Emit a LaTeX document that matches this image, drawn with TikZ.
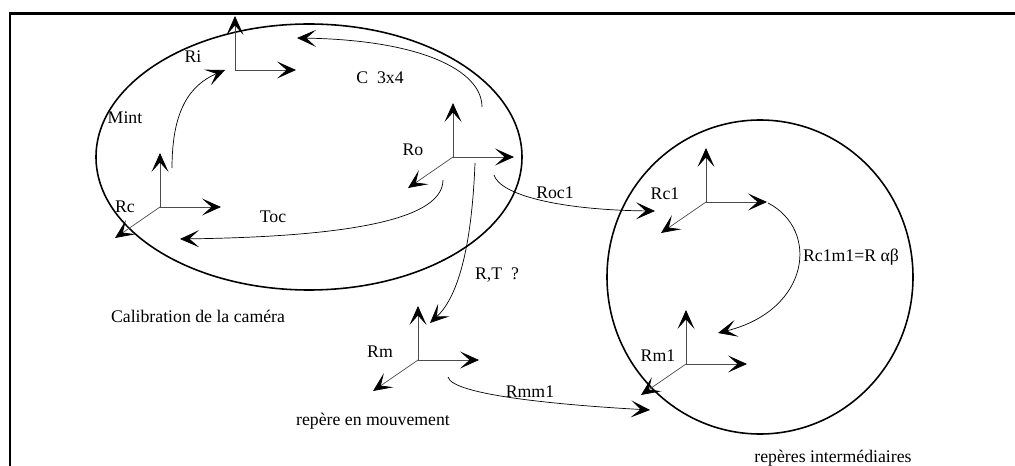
\documentclass[tikz,border=0pt]{standalone}
\usepackage{fontspec}
\setmainfont{Liberation Serif}
\usetikzlibrary{arrows.meta}
\tikzset{
  axe/.style={-{Stealth[length=3.8mm,width=3.4mm,inset=1.9mm,color=black]},line width=0.4pt,draw=black!70},
  fl/.style={-{Stealth[length=3.8mm,width=3.4mm,inset=1.9mm]},line width=0.4pt},
  zone/.style={line width=0.9pt},
  lbl/.style={font=\fontsize{10.1}{12}\selectfont,inner sep=0pt}
}
\begin{document}
\begin{tikzpicture}[x=0.02cm,y=-0.02cm]
\useasboundingbox (0,0) rectangle (1015,466);
\draw[line width=1.6pt] (10,466) -- (10,13.5) -- (1015,13.5);

\draw[zone] (309,157) ellipse [x radius=213,y radius=133];
\draw[zone] (760,277) ellipse [x radius=153,y radius=157];

\foreach \n/\px/\py in {ri/235/70,rc/160/207,ro/453/157,rc1/706/202,rm1/686/364,rm/418/360}{
  \coordinate (\n) at (\px,\py);
  \coordinate (\n-z) at (\px,\py-54);
  \coordinate (\n-x) at (\px+61,\py);
  \coordinate (\n-y) at (\px-45,\py+31);
  \draw[axe] (\n) -- (\n-z);
  \draw[axe] (\n) -- (\n-x);
}
\foreach \n in {rc,ro,rc1,rm1,rm} \draw[axe] (\n) -- (\n-y);

\node[lbl] (lri) at (193,57) {Ri};
\node[lbl] (lc) at (380,78) {C\ \ 3x4};
\node[lbl] (lmint) at (125,118) {Mint};
\node[lbl] (lro) at (413,150) {Ro};
\node[lbl] (lrc) at (125,207) {Rc};
\node[lbl] (ltoc) at (273,217) {Toc};
\node[lbl] (lroc) at (555,193) {Roc1};
\node[lbl] (lrc1) at (665,194) {Rc1};
\node[lbl] (lrc1m1) at (851,257) {Rc1m1=R αβ};
\node[lbl] (lrm1) at (658,356) {Rm1};
\node[lbl] (lrt) at (497,275) {R,T\ \ ?};
\node[lbl] (lrm) at (380,352) {Rm};
\node[lbl] (lrmm) at (530,392) {Rmm1};
\node[lbl] (lcal) at (198,316) {Calibration de la caméra};
\node[lbl] (lmvt) at (373,421) {repère en mouvement};
\node[lbl] (linter) at (833,458) {repères intermédiaires};

\coordinate (mint0) at (172,168); \coordinate (mint1) at (225,70);
\coordinate (c0) at (482,107); \coordinate (c1) at (297,38);
\coordinate (toc0) at (443,180); \coordinate (toc1) at (180,239);
\coordinate (rt0) at (475,163); \coordinate (rt1) at (430,323);
\coordinate (roc0) at (494,175); \coordinate (roc1) at (655,211);
\coordinate (rmm0) at (448,377); \coordinate (rmm1) at (650,410);
\coordinate (ab0) at (768,203); \coordinate (ab1) at (718,333);
\draw[fl] (mint0) .. controls (172,110) and (190,85) .. (mint1);
\draw[fl] (c0) .. controls (482,70) and (420,40) .. (c1);
\draw[fl] (toc0) .. controls (443,225) and (320,237) .. (toc1);
\draw[fl] (rt0) .. controls (472,240) and (460,295) .. (rt1);
\draw[fl] (roc0) .. controls (500,195) and (560,210) .. (roc1);
\draw[fl] (rmm0) .. controls (452,395) and (560,405) .. (rmm1);
\draw[fl] (ab0) .. controls (820,230) and (810,310) .. (ab1);
\end{tikzpicture}
\end{document}
